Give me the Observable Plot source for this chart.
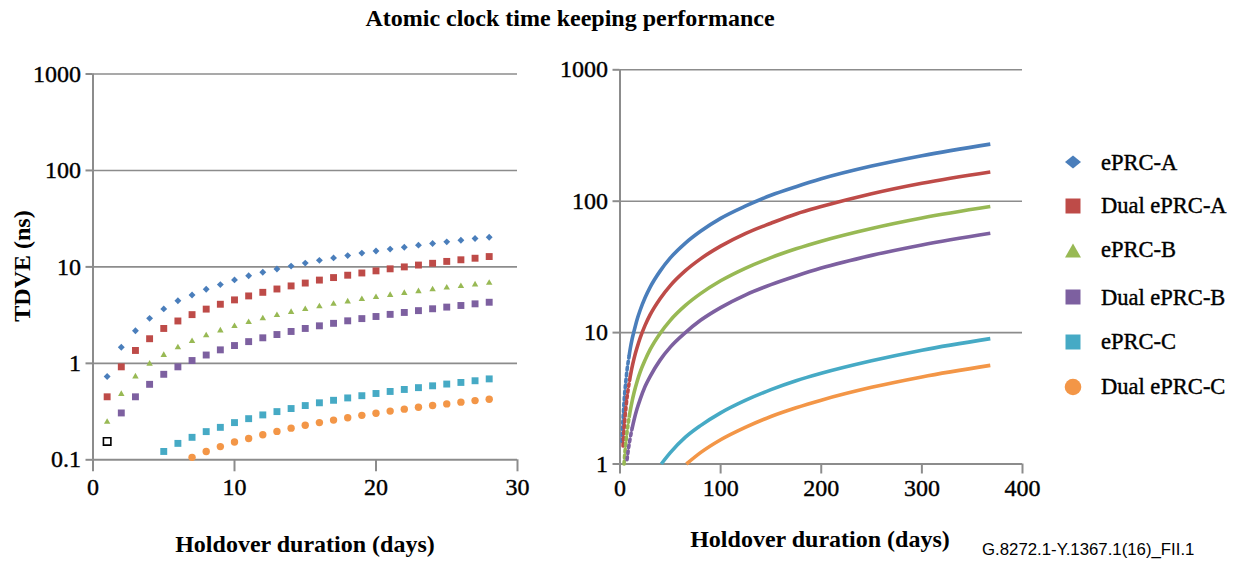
<!DOCTYPE html>
<html><head><meta charset="utf-8">
<script src="https://cdn.jsdelivr.net/npm/d3@7"></script>
<script src="https://cdn.jsdelivr.net/npm/@observablehq/plot@0.6"></script>
<style>
html,body{margin:0;padding:0;background:#fff;}
#wrap{position:relative;width:1244px;height:569px;overflow:hidden;background:#fff;}
#left{position:absolute;left:0;top:0;}
#right{position:absolute;left:540px;top:0;}
#overlay{position:absolute;left:0;top:0;pointer-events:none;}
</style></head><body>
<div id="wrap"><div id="left"></div><div id="right"></div><svg id="overlay" width="1244" height="569"></svg></div>
<script>
// ---------- data ----------
const seriesNames = ["ePRC-A", "Dual ePRC-A", "ePRC-B", "Dual ePRC-B", "ePRC-C", "Dual ePRC-C"];
const seriesColors = ["#4A7EBB", "#BE4B48", "#98B954", "#7D60A0", "#46AAC5", "#F39647"];

const leftDays = [1,2,3,4,5,6,7,8,9,10,11,12,13,14,15,16,17,18,19,20,21,22,23,24,25,26,27,28];
const leftA = [0.73,1.47,2.18,2.93,3.67,4.45,5.12,5.86,6.55,7.33,8.1,8.8,9.5,10.2,10.95,11.7,12.4,13.1,13.9,14.6,15.3,16.0,16.8,17.5,18.2,18.9,19.7,20.3];
const leftDualA = [0.45,0.92,1.36,1.8,2.3,2.75,3.2,3.65,4.1,4.55,5.0,5.45,5.9,6.35,6.8,7.3,7.75,8.2,8.65,9.1,9.55,10.0,10.45,10.9,11.4,11.85,12.3,12.8];
const leftB = [0.247,0.48,0.73,0.99,1.22,1.46,1.7,1.95,2.19,2.43,2.67,2.92,3.16,3.4,3.65,3.89,4.13,4.37,4.62,4.86,5.1,5.35,5.59,5.83,6.08,6.32,6.56,6.82];
const leftDualB = [0.155,0.306,0.45,0.606,0.77,0.92,1.07,1.22,1.38,1.53,1.68,1.84,1.99,2.14,2.3,2.45,2.6,2.76,2.91,3.06,3.22,3.37,3.52,3.68,3.83,3.98,4.14,4.3];
const leftC = [null,null,null,null,0.122,0.148,0.171,0.196,0.217,0.243,0.267,0.292,0.316,0.34,0.365,0.39,0.414,0.438,0.462,0.487,0.511,0.536,0.56,0.585,0.61,0.634,0.66,0.69];
const leftDualC = [null,null,null,null,null,null,0.106,0.122,0.137,0.153,0.166,0.182,0.197,0.213,0.228,0.243,0.258,0.273,0.289,0.304,0.32,0.335,0.35,0.365,0.38,0.396,0.411,0.425];
const leftHollowPoint = {series: "Dual ePRC-B", day: 1};

const rightA = [[2,1.48],[3,2.2],[4,2.95],[5,3.7],[6,4.4],[7,5.2],[8,5.9],[9,6.6],[10,7.4],[12,8.9],[14,10.3],[17,12.6],[20,14.8],[25,18.5],[30,22.2],[40,29.5],[50,37],[65,48],[80,59],[100,74],[125,92],[150,111],[175,129],[200,148],[250,185],[300,222],[368,272]];
const rightDualA = [[3,1.37],[4,1.82],[5,2.28],[6,2.73],[7,3.2],[8,3.64],[9,4.1],[10,4.55],[12,5.46],[14,6.37],[17,7.7],[20,9.1],[25,11.4],[30,13.7],[40,18.2],[50,22.8],[65,29.6],[80,36.4],[100,45.5],[125,57],[150,68],[175,80],[200,91],[250,114],[300,137],[368,167]];
const rightB = [[4,1.0],[5,1.25],[6,1.5],[7,1.75],[8,2.0],[9,2.25],[10,2.5],[12,3.0],[14,3.5],[17,4.25],[20,5.0],[25,6.2],[30,7.45],[40,9.9],[50,12.4],[65,16.1],[80,19.8],[100,24.8],[125,31],[150,37.2],[175,43.4],[200,49.6],[250,62],[300,74.5],[368,91]];
const rightDualB = [[7,1.08],[8,1.24],[9,1.4],[10,1.55],[12,1.86],[14,2.17],[17,2.64],[20,3.1],[25,3.9],[30,4.65],[40,6.2],[50,7.75],[65,10],[80,12.4],[100,15.5],[125,19.4],[150,23.2],[175,27],[200,31],[250,38.7],[300,46.5],[368,57]];
const rightC = [[41,1.0],[50,1.22],[65,1.6],[80,1.96],[100,2.45],[125,3.06],[150,3.68],[175,4.3],[200,4.9],[250,6.1],[300,7.35],[368,9.0]];
const rightDualC = [[66,1.0],[80,1.22],[100,1.53],[125,1.91],[150,2.3],[175,2.68],[200,3.06],[250,3.83],[300,4.6],[368,5.63]];
const rightDashedUntil = [9, 10, 9, 12, 0, 0];

const leftXTicks = [0, 10, 20, 30];
const leftYTicks = [0.1, 1, 10, 100, 1000];
const rightXTicks = [0, 100, 200, 300, 400];
const rightYTicks = [1, 10, 100, 1000];

const titleText = "Atomic clock time keeping performance";
const xTitle = "Holdover duration (days)";
const yTitle = "TDVE (ns)";
const footerText = "G.8272.1-Y.1367.1(16)_FII.1";

// ---------- build tables ----------
const leftValues = [leftA, leftDualA, leftB, leftDualB, leftC, leftDualC];
const leftRows = [];
leftValues.forEach((vals, si) => vals.forEach((v, i) => {
  if (v != null) leftRows.push({series: seriesNames[si], day: leftDays[i], value: v});
}));
const rightValues = [rightA, rightDualA, rightB, rightDualB, rightC, rightDualC];
const rightRows = [];
rightValues.forEach((pairs, si) => pairs.forEach(([d, v]) => {
  rightRows.push({series: seriesNames[si], day: d, value: v,
    dashed: d <= rightDashedUntil[si], solid: d >= rightDashedUntil[si]});
}));

const serif = "'Liberation Serif','Times New Roman',serif";
const gridColor = "#8c8c8c";
const symbols = [d3.symbolDiamond2, d3.symbolSquare, d3.symbolTriangle, d3.symbolSquare, d3.symbolSquare, d3.symbolCircle];
const radii = [3.1, 3.9, 2.4, 3.9, 3.9, 3.7];

const isHollow = d => d.series === leftHollowPoint.series && d.day === leftHollowPoint.day;
const plotStyle = {background: "transparent", color: "black", overflow: "visible", fontFamily: serif, fontSize: "24px"};

const leftDots = seriesNames.map((name, si) =>
  Plot.dot(leftRows.filter(d => d.series === name && !isHollow(d)), {
    x: "day", y: "value", symbol: symbols[si], r: radii[si], fill: seriesColors[si], stroke: "none"
  }));

const leftPlot = Plot.plot({
  width: 540, height: 569,
  marginLeft: 92.5, marginRight: 23, marginTop: 73.5, marginBottom: 109.7,
  x: {domain: [0, 30]},
  y: {type: "log", domain: [0.1, 1000]},
  style: plotStyle,
  marks: [
    Plot.gridY(leftYTicks.slice(1), {stroke: gridColor, strokeOpacity: 1, strokeWidth: 1.6}),
    Plot.ruleX([0], {stroke: gridColor, strokeWidth: 2}),
    Plot.ruleY([0.1], {stroke: gridColor, strokeWidth: 2}),
    Plot.axisY({ticks: leftYTicks, tickFormat: d => String(d), tickSize: 7, tickPadding: 5,
      fontSize: 24, fontFamily: serif, stroke: gridColor, strokeWidth: 2, fill: "black", label: null}),
    Plot.axisX({ticks: leftXTicks, tickFormat: d => String(d), tickSize: 12, tickPadding: 6,
      fontSize: 24, fontFamily: serif, stroke: gridColor, strokeWidth: 2, fill: "black", label: null}),
    ...leftDots,
    Plot.dot(leftRows.filter(isHollow), {x: "day", y: "value", symbol: d3.symbolSquare, r: 4.2,
      fill: "white", stroke: "black", strokeWidth: 1.6})
  ]
});
document.getElementById("left").appendChild(leftPlot);

const rightPlot = Plot.plot({
  width: 510, height: 569,
  marginLeft: 79.5, marginRight: 28, marginTop: 69.3, marginBottom: 105.5,
  x: {domain: [0, 400]},
  y: {type: "log", domain: [1, 1000]},
  color: {domain: seriesNames, range: seriesColors},
  style: plotStyle,
  marks: [
    Plot.gridY(rightYTicks.slice(1), {stroke: gridColor, strokeOpacity: 1, strokeWidth: 1.6}),
    Plot.ruleX([0], {stroke: gridColor, strokeWidth: 2}),
    Plot.ruleY([1], {stroke: gridColor, strokeWidth: 2}),
    Plot.axisY({ticks: rightYTicks, tickFormat: d => String(d), tickSize: 7, tickPadding: 5,
      fontSize: 24, fontFamily: serif, stroke: gridColor, strokeWidth: 2, fill: "black", label: null}),
    Plot.axisX({ticks: rightXTicks, tickFormat: d => String(d), tickSize: 10, tickPadding: 4.5,
      fontSize: 24, fontFamily: serif, stroke: gridColor, strokeWidth: 2, fill: "black", label: null}),
    Plot.line(rightRows.filter(d => d.dashed), {x: "day", y: "value", z: "series", stroke: "series",
      strokeWidth: 3.6, strokeDasharray: "2.6,3.4", curve: "monotone-x"}),
    Plot.line(rightRows.filter(d => d.solid), {x: "day", y: "value", z: "series", stroke: "series",
      strokeWidth: 3.6, curve: "monotone-x", strokeLinecap: "butt"})
  ]
});
document.getElementById("right").appendChild(rightPlot);

// darker, print-like tick labels
d3.selectAll("#left text, #right text").attr("stroke", "black").attr("stroke-width", 0.4);

// ---------- titles, caption and legend ----------
const ov = d3.select("#overlay");
ov.append("text").attr("x", 570).attr("y", 26).attr("text-anchor", "middle")
  .attr("font-family", serif).attr("font-weight", "bold").attr("font-size", 24).text(titleText);
ov.append("text").attr("x", 305).attr("y", 552).attr("text-anchor", "middle")
  .attr("font-family", serif).attr("font-weight", "bold").attr("font-size", 24).text(xTitle);
ov.append("text").attr("x", 820).attr("y", 547).attr("text-anchor", "middle")
  .attr("font-family", serif).attr("font-weight", "bold").attr("font-size", 24).text(xTitle);
ov.append("text").attr("transform", "translate(30,266) rotate(-90)").attr("text-anchor", "middle")
  .attr("font-family", serif).attr("font-weight", "bold").attr("font-size", 24).text(yTitle);
ov.append("text").attr("x", 982).attr("y", 555)
  .attr("font-family", "'Liberation Sans',Arial,sans-serif").attr("font-size", 16.8).text(footerText);

const legendMarkerY = [162, 206, 251, 297, 342, 387];
const legendTextY = [170, 213, 257, 305, 349, 394];
const legendShapes = [
  "M0,-6.5L8,0L0,6.5L-8,0Z",
  "M-7.5,-7.5H7.5V7.5H-7.5Z",
  "M0,-7.5L8,6.5L-8,6.5Z",
  "M-7.5,-7.5H7.5V7.5H-7.5Z",
  "M-7.5,-7.5H7.5V7.5H-7.5Z",
  null
];
seriesNames.forEach((name, i) => {
  const g = ov.append("g").attr("transform", `translate(1073,${legendMarkerY[i]})`);
  if (legendShapes[i]) g.append("path").attr("d", legendShapes[i]).attr("fill", seriesColors[i]);
  else g.append("circle").attr("r", 8.3).attr("fill", seriesColors[i]);
  ov.append("text").attr("x", 1101).attr("y", legendTextY[i])
    .attr("font-family", serif).attr("font-size", 22.5)
    .attr("stroke", "black").attr("stroke-width", 0.4).text(name);
});
</script></body></html>
